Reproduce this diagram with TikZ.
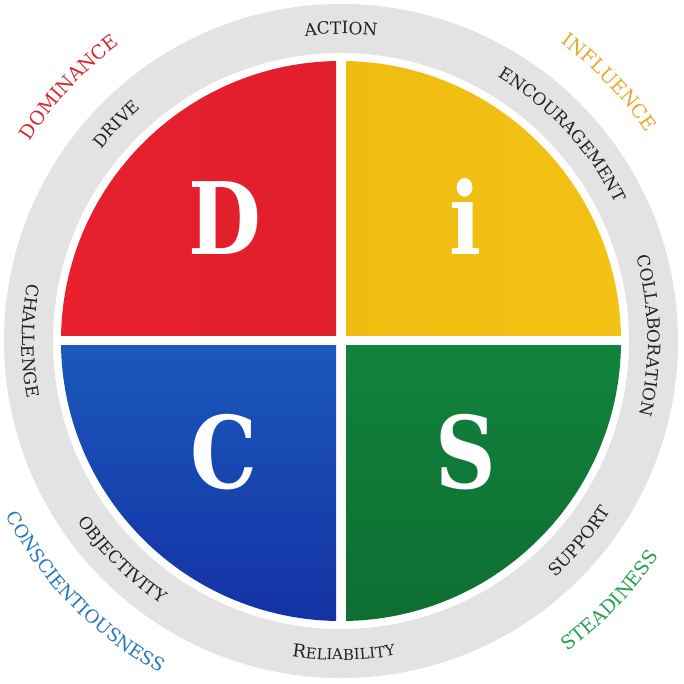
\documentclass[tikz,border=0pt]{standalone}
\usepackage{fontspec}
\setmainfont{DejaVu Serif}
\usetikzlibrary{decorations.text}
\newfontfamily\dvserif{DejaVu Serif}
\newcommand\ringfont{\dvserif\fontsize{17}{17}\selectfont}
\newcommand\ringbig{\dvserif\fontsize{18}{18}\selectfont}
\newcommand\ringsmall{\dvserif\fontsize{15}{15}\selectfont}
\newcommand\outfont{\dvserif\fontsize{19}{19}\selectfont}
\newcommand\outfontsm{\dvserif\fontsize{18.2}{18.2}\selectfont}
\newcommand\bigletter{\dvserif\bfseries\fontsize{100}{100}\selectfont}
\definecolor{ringgray}{RGB}{227,227,227}
\definecolor{ringtext}{RGB}{34,34,34}
\definecolor{dred}{RGB}{232,32,46}
\definecolor{dredd}{RGB}{218,28,40}
\definecolor{iyel}{RGB}{243,194,20}
\definecolor{iyeld}{RGB}{236,182,14}
\definecolor{cblue}{RGB}{32,128,210}
\definecolor{cblued}{RGB}{20,50,165}
\definecolor{sgreen}{RGB}{22,152,72}
\definecolor{sgreend}{RGB}{14,110,50}
\definecolor{labred}{RGB}{217,38,46}
\definecolor{labgold}{RGB}{232,168,40}
\definecolor{labgreen}{RGB}{40,162,80}
\definecolor{labblue}{RGB}{38,119,188}
\tikzset{
  x=1pt, y=1pt,
  ringtxt/.style={decorate, decoration={text along path, text align=center,
      text color=ringtext, text={|\ringfont|#1}}},
  outtxt/.style 2 args={decorate, decoration={text along path, text align=center,
      text color=#1, text={|\outfont|#2}}},
  letter/.style={text=white, font=\bigletter, inner sep=0pt, anchor=base, xscale=0.84}
}
\begin{document}
\begin{tikzpicture}
\useasboundingbox (-341,-343) rectangle (343,341);
\fill[white] (-341,-343) rectangle (343,341);
% gray ring
\fill[ringgray, even odd rule] (0,0) circle (337) (0,0) circle (288);
% quadrants
\begin{scope}
  \clip (-5,5) rectangle (-300,300);
  \shade[left color=dred, right color=dredd] (0,0) circle (280);
\end{scope}
\begin{scope}
  \clip (5,5) rectangle (300,300);
  \shade[left color=iyeld, right color=iyel] (0,0) circle (280);
\end{scope}
\begin{scope}
  \clip (-5,-5) rectangle (-300,-300);
  \shade[top color=cblue, bottom color=cblued] (0,0) circle (280);
\end{scope}
\begin{scope}
  \clip (5,-5) rectangle (300,-300);
  \shade[top color=sgreen, bottom color=sgreend] (0,0) circle (280);
\end{scope}
% big letters
\node[letter] (D) at (-116,86) {D};
\node[letter] (i) at (124,86) {i};
\node[letter] (C) at (-117,-147) {C};
\node[letter] (S) at (125,-147) {S};
% ring texts, upper half (clockwise)
\path[ringtxt={ACTION}] (130:307) arc[start angle=130, end angle=50, radius=307];
\path[ringtxt={ENCOURAGEMENT}] (85:307) arc[start angle=85, end angle=1, radius=307];
\path[ringtxt={COLLABORATION}] (41:307) arc[start angle=41, end angle=-39, radius=307];
\path[ringtxt={DRIVE}] (176:307) arc[start angle=176, end angle=96, radius=307];
% ring texts, lower half (counterclockwise)
\path[ringtxt={SUPPORT}] (-80:319) arc[start angle=-80, end angle=0, radius=319];
\path[decorate, decoration={text along path, text align=center, text color=ringtext,
   text={|\ringbig|R|\ringsmall|ELIABILITY}}] (-130:319) arc[start angle=-130, end angle=-49, radius=319];
\path[ringtxt={OBJECTIVITY}] (185:319) arc[start angle=185, end angle=265, radius=319];
\path[ringtxt={CHALLENGE}] (140:319) arc[start angle=140, end angle=220, radius=319];
% outer labels
\path[outtxt={labred}{DOMINANCE}] (177:370) arc[start angle=177, end angle=97, radius=370];
\path[outtxt={labgold}{INFLUENCE}] (84:370) arc[start angle=84, end angle=4, radius=370];
\path[outtxt={labgreen}{STEADINESS}] (-84:384) arc[start angle=-84, end angle=-4, radius=384];
\path[decorate, decoration={text along path, text align=center, text color=labblue,
   text={|\outfontsm|CONSCIENTIOUSNESS}}] (-182:378) arc[start angle=-182, end angle=-89, radius=378];
\end{tikzpicture}
\end{document}
